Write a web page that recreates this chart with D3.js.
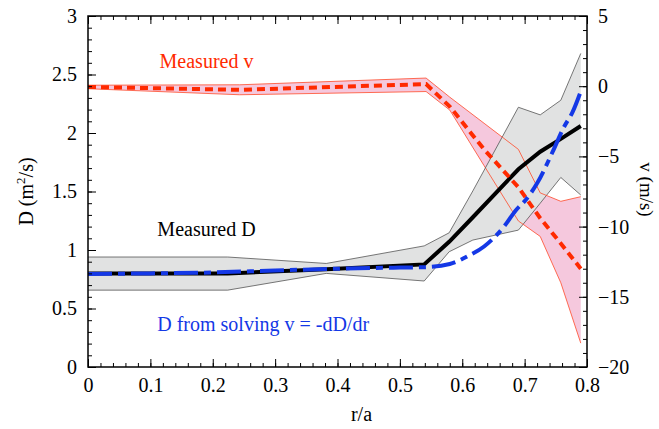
<!DOCTYPE html>
<html>
<head>
<meta charset="utf-8">
<script src="https://cdn.jsdelivr.net/npm/d3@7"></script>
<style>
  body { margin: 0; background: #fff; }
  text { font-family: "Liberation Serif", "Times New Roman", "DejaVu Serif", serif; }
</style>
</head>
<body>
<div id="chart"></div>
<script>
// measured D profile and its error band
const rD    = [0, 0.224, 0.382, 0.539, 0.579, 0.617, 0.69, 0.725, 0.758, 0.79];
const dMeas = [0.80, 0.80, 0.835, 0.877, 1.07, 1.28, 1.69, 1.84, 1.95, 2.06];
const dLow  = [0.657, 0.657, 0.80, 0.735, 0.985, 1.085, 1.17, 1.40, 1.62, 1.47];
const dHigh = [0.94, 0.94, 0.885, 1.035, 1.147, 1.505, 2.22, 2.155, 2.28, 2.68];

// measured v profile and its error band
const rV    = [0, 0.243, 0.542, 0.58, 0.635, 0.69, 0.725, 0.758, 0.79];
const vMeas = [-0.05, -0.26, 0.15, -1.45, -4.5, -7.2, -9.4, -11.2, -13.0];
const vLow  = [-0.18, -0.61, -0.38, -1.7, -5.66, -9.6, -10.7, -14.0, -18.3];
const vHigh = [0.07, 0.1, 0.58, -0.78, -2.64, -4.5, -7.6, -8.2, -7.87];

// D obtained by solving v = -dD/dr
const rS    = [0, 0.1, 0.2, 0.3, 0.4, 0.5, 0.54, 0.58, 0.61, 0.635, 0.667, 0.686, 0.702, 0.72, 0.745, 0.763, 0.777, 0.791];
const dSolv = [0.795, 0.80, 0.808, 0.825, 0.84, 0.85, 0.853, 0.88, 0.95, 1.03, 1.20, 1.34, 1.43, 1.57, 1.84, 2.05, 2.18, 2.37];

const xTicks  = [0, 0.1, 0.2, 0.3, 0.4, 0.5, 0.6, 0.7, 0.8];
const dTicks  = [0, 0.5, 1, 1.5, 2, 2.5, 3];
const vTicks  = [-20, -15, -10, -5, 0, 5];

const margin = {top: 16, right: 72, bottom: 62, left: 88};
const width = 659, height = 429;
const W = width - margin.left - margin.right;
const H = height - margin.top - margin.bottom;

const svg = d3.select("#chart").append("svg")
    .attr("width", width)
    .attr("height", height);

const g = svg.append("g")
    .attr("transform", `translate(${margin.left},${margin.top})`);

const x = d3.scaleLinear().domain([0, 0.8]).range([0, W]);
const yD = d3.scaleLinear().domain([0, 3]).range([H, 0]);
const yV = d3.scaleLinear().domain([-20, 5]).range([H, 0]);

const dRows = rD.map((r, i) => ({r, m: dMeas[i], lo: dLow[i], hi: dHigh[i]}));
const vRows = rV.map((r, i) => ({r, m: vMeas[i], lo: vLow[i], hi: vHigh[i]}));
const sRows = rS.map((r, i) => ({r, d: dSolv[i]}));

// bands: pink under grey
g.append("path")
    .datum(vRows)
    .attr("fill", "#f5c8dd")
    .attr("d", d3.area().x(d => x(d.r)).y0(d => yV(d.lo)).y1(d => yV(d.hi)));

g.append("path")
    .datum(dRows)
    .attr("fill", "#e1e2e2")
    .attr("d", d3.area().x(d => x(d.r)).y0(d => yD(d.lo)).y1(d => yD(d.hi)));

// band edges
["lo", "hi"].forEach(k => {
    g.append("path")
        .datum(dRows)
        .attr("fill", "none")
        .attr("stroke", "#555")
        .attr("stroke-width", 0.8)
        .attr("d", d3.line().x(d => x(d.r)).y(d => yD(d[k])));
    g.append("path")
        .datum(vRows)
        .attr("fill", "none")
        .attr("stroke", "#ff4a2a")
        .attr("stroke-width", 0.8)
        .attr("d", d3.line().x(d => x(d.r)).y(d => yV(d[k])));
});

// measured D
g.append("path")
    .datum(dRows)
    .attr("fill", "none")
    .attr("stroke", "#000")
    .attr("stroke-width", 4)
    .attr("d", d3.line().x(d => x(d.r)).y(d => yD(d.m)));

// measured v
g.append("path")
    .datum(vRows)
    .attr("fill", "none")
    .attr("stroke", "#ff2a00")
    .attr("stroke-width", 4)
    .attr("stroke-dasharray", "8,5")
    .attr("d", d3.line().x(d => x(d.r)).y(d => yV(d.m)));

// D from solving v = -dD/dr
g.append("path")
    .datum(sRows)
    .attr("fill", "none")
    .attr("stroke", "#1438e6")
    .attr("stroke-width", 4)
    .attr("stroke-dasharray", "24,6,7,6")
    .attr("d", d3.line().curve(d3.curveMonotoneX).x(d => x(d.r)).y(d => yD(d.d)));

// frame
g.append("rect")
    .attr("width", W)
    .attr("height", H)
    .attr("fill", "none")
    .attr("stroke", "#000")
    .attr("stroke-width", 1.5);

// axes, ticks pointing inward
const xMinor = d3.range(0, 0.8001, 0.02);
const dMinor = d3.range(0, 3.0001, 0.1);
const vMinor = d3.range(-20, 5.0001, 1);

function styleAxis(sel) {
    sel.select(".domain").remove();
    sel.selectAll(".tick line").attr("stroke", "#000").attr("stroke-width", 1);
    sel.selectAll(".tick text")
        .attr("fill", "#000")
        .style("font-size", "20px")
        .style("font-family", "Liberation Serif, serif");
}

g.append("g").attr("transform", `translate(0,${H})`)
    .call(d3.axisBottom(x).tickValues(xMinor).tickSize(-4).tickFormat(""))
    .call(styleAxis);
g.append("g").attr("transform", `translate(0,${H})`)
    .call(d3.axisBottom(x).tickValues(xTicks).tickSize(-8).tickPadding(11).tickFormat(d3.format("")))
    .call(styleAxis);
g.append("g")
    .call(d3.axisTop(x).tickValues(xMinor).tickSize(-4).tickFormat(""))
    .call(styleAxis);
g.append("g")
    .call(d3.axisTop(x).tickValues(xTicks).tickSize(-8).tickFormat(""))
    .call(styleAxis);

g.append("g")
    .call(d3.axisLeft(yD).tickValues(dMinor).tickSize(-4).tickFormat(""))
    .call(styleAxis);
g.append("g")
    .call(d3.axisLeft(yD).tickValues(dTicks).tickSize(-8).tickPadding(11).tickFormat(d3.format("")))
    .call(styleAxis);

g.append("g").attr("transform", `translate(${W},0)`)
    .call(d3.axisRight(yV).tickValues(vMinor).tickSize(-4).tickFormat(""))
    .call(styleAxis);
g.append("g").attr("transform", `translate(${W},0)`)
    .call(d3.axisRight(yV).tickValues(vTicks).tickSize(-8).tickPadding(11).tickFormat(d3.format("")))
    .call(styleAxis);

// axis titles
g.append("text")
    .attr("x", W / 2 + 24)
    .attr("y", H + 54)
    .attr("text-anchor", "middle")
    .style("font-size", "20px")
    .text("r/a");

const dTitle = g.append("text")
    .attr("transform", `translate(${-55},${H / 2}) rotate(-90)`)
    .attr("text-anchor", "middle")
    .style("font-size", "20px");
dTitle.append("tspan").text("D (m");
dTitle.append("tspan").attr("dy", -8).style("font-size", "13px").text("2");
dTitle.append("tspan").attr("dy", 8).text("/s)");

g.append("text")
    .attr("transform", `translate(${W + 53},${H / 2 - 2}) rotate(90)`)
    .attr("text-anchor", "middle")
    .style("font-size", "19px")
    .text("v (m/s)");

// annotations
g.append("text")
    .attr("x", x(0.19))
    .attr("y", yD(2.555))
    .attr("text-anchor", "middle")
    .attr("fill", "#ff2a00")
    .style("font-size", "20px")
    .text("Measured v");

g.append("text")
    .attr("x", x(0.19))
    .attr("y", yD(1.12))
    .attr("text-anchor", "middle")
    .attr("fill", "#000")
    .style("font-size", "20px")
    .text("Measured D");

g.append("text")
    .attr("x", x(0.111))
    .attr("y", yD(0.31))
    .attr("fill", "#1438e6")
    .style("font-size", "20px")
    .text("D from solving v = -dD/dr");
</script>
</body>
</html>
